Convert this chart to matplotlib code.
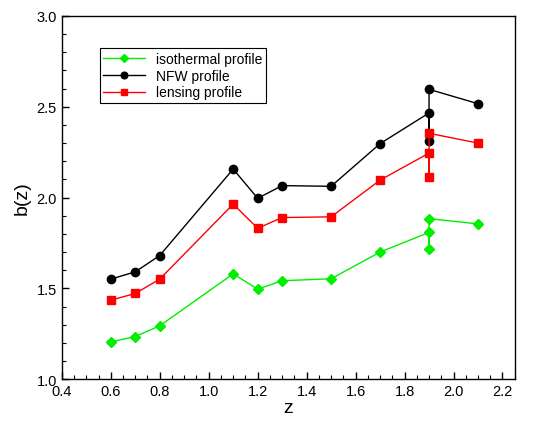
import matplotlib
matplotlib.use("Agg")
import matplotlib.pyplot as plt
from matplotlib.ticker import MultipleLocator

plt.rcParams['font.family'] = ['Liberation Sans', 'DejaVu Sans']

# redshift points (z = 1.9 appears three times)
z = [0.6, 0.7, 0.8, 1.1, 1.2, 1.3, 1.5, 1.7, 1.9, 1.9, 1.9, 2.1]

b_iso = [1.205, 1.235, 1.294, 1.58, 1.496, 1.542, 1.553, 1.70, 1.808, 1.716, 1.884, 1.855]
b_nfw = [1.551, 1.591, 1.681, 2.157, 1.996, 2.066, 2.062, 2.297, 2.466, 2.31, 2.596, 2.517]
b_lens = [1.435, 1.472, 1.551, 1.964, 1.831, 1.89, 1.894, 2.096, 2.245, 2.111, 2.354, 2.30]

fig = plt.figure(figsize=(5.47, 4.35), dpi=100)
ax = fig.add_axes([0.113, 0.126, 0.828, 0.835])

ax.plot(z, b_iso, '-D', color='#00ee00', mfc='#00ee00', mec='#00ee00', lw=1, ms=5, label='isothermal profile')
ax.plot(z, b_nfw, '-o', color='black', lw=1, ms=6, label='NFW profile')
ax.plot(z, b_lens, '-s', color='red', lw=1, ms=5.5, label='lensing profile')

ax.set_xlim(0.4, 2.25)
ax.set_ylim(1.0, 3.0)
ax.xaxis.set_major_locator(MultipleLocator(0.2))
ax.xaxis.set_minor_locator(MultipleLocator(0.05))
ax.yaxis.set_major_locator(MultipleLocator(0.5))
ax.yaxis.set_minor_locator(MultipleLocator(0.1))
ax.tick_params(which='both', direction='in', top=False, right=False, labelsize=10.5)
ax.tick_params(which='major', length=5, width=1)
ax.tick_params(which='minor', length=3, width=0.8)
for s in ax.spines.values():
    s.set_linewidth(1)

ax.set_xlabel('z', fontsize=14, labelpad=1)
ax.set_ylabel('b(z)', fontsize=14)

leg = ax.legend(loc='upper left', bbox_to_anchor=(0.068, 0.93), fontsize=10,
                fancybox=False, edgecolor='black', framealpha=1, markerscale=0.8,
                handlelength=3, borderpad=0.25, labelspacing=0.2)
leg.get_frame().set_linewidth(0.8)

fig.savefig('out.png', dpi=100)
